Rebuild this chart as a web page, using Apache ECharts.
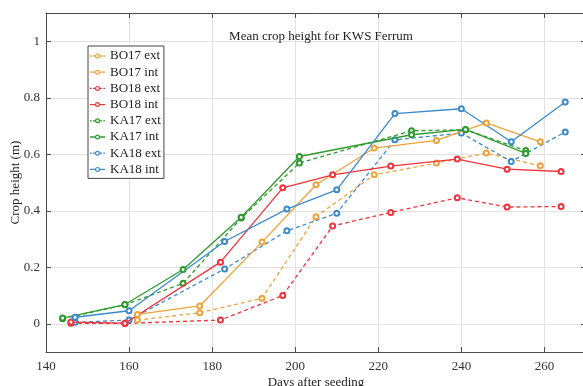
<!DOCTYPE html>
<html>
<head>
<meta charset="utf-8">
<script src="https://cdn.jsdelivr.net/npm/echarts@6/dist/echarts.min.js"></script>
<style>html,body{margin:0;padding:0;background:#fff}#c{width:583px;height:386px}</style>
</head>
<body>
<div id="c"></div>
<script>
const titleText = 'Mean crop height for KWS Ferrum';
const xName = 'Days after seeding';
const yName = 'Crop height (m)';
const yTicks = [0, 0.2, 0.4, 0.6, 0.8, 1];

const daysBO17 = [162, 177, 192, 205, 219, 234, 246, 259];
const bo17ext = [0.013, 0.039, 0.090, 0.379, 0.527, 0.569, 0.604, 0.559];
const bo17int = [0.033, 0.063, 0.289, 0.492, 0.622, 0.649, 0.711, 0.644];

const daysBO18 = [146, 159, 182, 197, 209, 223, 239, 251, 264];
const bo18ext = [0.002, 0.001, 0.013, 0.100, 0.346, 0.394, 0.446, 0.413, 0.415];
const bo18int = [0.006, 0.002, 0.218, 0.481, 0.527, 0.558, 0.583, 0.547, 0.539];

const daysKA17 = [144, 159, 173, 187, 201, 228, 241, 255.5];
const ka17ext = [0.018, 0.067, 0.143, 0.374, 0.569, 0.683, 0.687, 0.613];
const ka17int = [0.020, 0.068, 0.192, 0.377, 0.592, 0.669, 0.688, 0.603];

const daysKA18 = [147, 160, 183, 198, 210, 224, 240, 252, 265];
const ka18ext = [0.005, 0.013, 0.194, 0.329, 0.391, 0.651, 0.675, 0.574, 0.679];
const ka18int = [0.023, 0.046, 0.291, 0.406, 0.474, 0.744, 0.761, 0.644, 0.785];

const seriesNames = ['BO17 ext','BO17 int','BO18 ext','BO18 int','KA17 ext','KA17 int','KA18 ext','KA18 int'];
const seriesDays = [daysBO17, daysBO17, daysBO18, daysBO18, daysKA17, daysKA17, daysKA18, daysKA18];
const seriesVals = [bo17ext, bo17int, bo18ext, bo18int, ka17ext, ka17int, ka18ext, ka18int];
const colors = ['#EDA33A','#EDA33A','#F0323C','#F0323C','#2F9A30','#2F9A30','#3B8BC9','#3B8BC9'];

const font = 'Liberation Serif, Times New Roman, serif';
const axisColor = '#4a4a4a';

// legend icons: line segments + ring (open circle)
const ring = 'M20,10 A5,5 0 1,1 10,10 A5,5 0 1,1 20,10 Z M17.6,10 A2.6,2.6 0 1,0 12.4,10 A2.6,2.6 0 1,0 17.6,10 Z';
const solidIcon = 'path://M0,8.7 L10.2,8.7 L10.2,11.3 L0,11.3 Z M19.8,8.7 L30,8.7 L30,11.3 L19.8,11.3 Z ' + ring;
const dashIcon = 'path://M0,8.7 L3.5,8.7 L3.5,11.3 L0,11.3 Z M6,8.7 L10.2,8.7 L10.2,11.3 L6,11.3 Z M19.8,8.7 L24,8.7 L24,11.3 L19.8,11.3 Z M26.5,8.7 L30,8.7 L30,11.3 L26.5,11.3 Z ' + ring;

const series = seriesNames.map((n, i) => ({
  name: n,
  type: 'line',
  data: seriesDays[i].map((d, j) => [d, seriesVals[i][j]]),
  symbol: 'emptyCircle',
  symbolSize: 5,
  color: colors[i],
  lineStyle: { width: 1.3, type: n.endsWith('ext') ? [4, 3] : 'solid' },
  itemStyle: { borderWidth: 1.2 },
  xAxisIndex: 0, yAxisIndex: 0,
  z: n.endsWith('ext') ? 2 : 3
}));

const legendData = seriesNames.map((n, i) => ({
  name: n,
  icon: n.endsWith('ext') ? dashIcon : solidIcon,
  itemStyle: { color: colors[i], borderWidth: 0 }
}));

const chart = echarts.init(document.getElementById('c'), null, { renderer: 'canvas' });
chart.setOption({
  animation: false,
  backgroundColor: '#fff',
  title: {
    text: titleText, left: 316, top: 25, textAlign: 'center',
    textStyle: { fontFamily: font, fontSize: 13, fontWeight: 'normal', color: '#222' }
  },
  legend: {
    orient: 'vertical', left: 88, top: 46,
    data: legendData,
    itemWidth: 15, itemHeight: 10, itemGap: 2.2,
    padding: [3, 3, 2, 2],
    borderColor: '#444', borderWidth: 1, backgroundColor: '#fff',
    itemStyle: { borderWidth: 0 },
    textStyle: { fontFamily: font, fontSize: 13, color: '#222', lineHeight: 14 }
  },
  grid: { left: 46, top: 13, right: -3, bottom: 34, outerBoundsMode: 'none', containLabel: false },
  xAxis: [{
    type: 'value', min: 140, max: 270, interval: 20,
    name: xName, nameLocation: 'middle', nameGap: 24, nameMoveOverlap: false,
    nameTextStyle: { fontFamily: font, fontSize: 13, color: '#222' },
    axisLine: { show: true, onZero: false, lineStyle: { color: axisColor, width: 1 } },
    axisTick: { show: true, inside: true, length: 5, lineStyle: { color: axisColor } },
    axisLabel: { fontFamily: font, fontSize: 13, color: '#333', margin: 8,
      formatter: v => (v % 20 === 0 && v <= 260) ? String(v) : '' },
    splitLine: { show: true, lineStyle: { color: '#e2e2e2', width: 1 } }
  }, {
    type: 'value', position: 'top', min: 140, max: 270, interval: 20,
    axisLine: { show: true, onZero: false, lineStyle: { color: axisColor, width: 1 } },
    axisTick: { show: true, inside: true, length: 5, lineStyle: { color: axisColor } },
    axisLabel: { show: false }, splitLine: { show: false }
  }],
  yAxis: [{
    type: 'value', min: -0.1, max: 1.1,
    name: yName, nameLocation: 'middle', nameGap: 24, nameRotate: 90, nameMoveOverlap: false,
    nameTextStyle: { fontFamily: font, fontSize: 13, color: '#222' },
    axisLine: { show: true, onZero: false, lineStyle: { color: axisColor, width: 1 } },
    axisTick: { show: true, inside: true, length: 5, customValues: yTicks, lineStyle: { color: axisColor } },
    axisLabel: { fontFamily: font, fontSize: 13, color: '#333', margin: 6, customValues: yTicks,
      formatter: v => String(Math.round(v * 10) / 10) },
    splitLine: { show: true, lineStyle: { color: '#e2e2e2', width: 1 } }
  }, {
    type: 'value', position: 'right', min: -0.1, max: 1.1,
    axisLine: { show: true, onZero: false, lineStyle: { color: axisColor, width: 1 } },
    axisTick: { show: true, inside: true, length: 5, customValues: yTicks, lineStyle: { color: axisColor } },
    axisLabel: { show: false }, splitLine: { show: false }
  }],
  series: series
});
</script>
</body>
</html>
